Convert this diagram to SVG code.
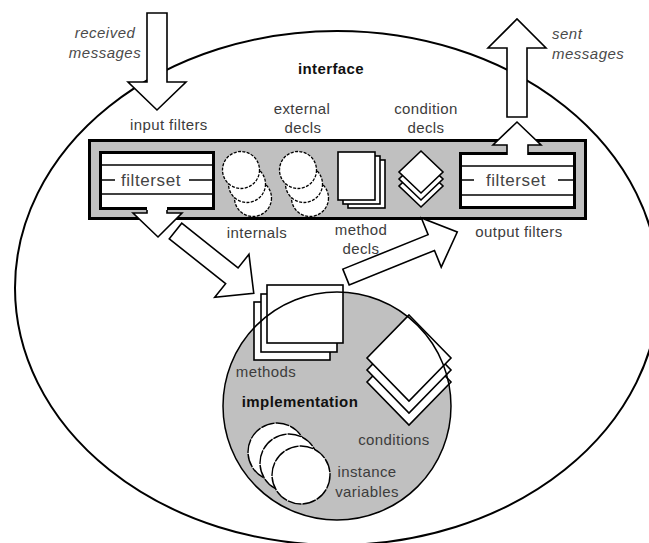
<svg xmlns="http://www.w3.org/2000/svg" width="649" height="543" viewBox="0 0 649 543">
<style>
  text { font-family: "Liberation Sans", Arial, sans-serif; font-size: 15px; fill: #3c3c3c; letter-spacing: 0.4px; }
  .it { font-style: italic; letter-spacing: 0.5px; fill: #4a4a4a; }
  .b { font-weight: bold; fill: #111; }
  .mid { text-anchor: middle; }
  .fs { font-size: 17px; letter-spacing: 0.6px; fill: #444; }
  .sheet { fill: #fff; stroke: #000; stroke-width: 1.6; }
  .dash { fill: #fff; stroke: #000; stroke-width: 1.3; stroke-dasharray: 3 1.4; }
  .ring { fill: #fff; stroke: #000; stroke-width: 1.4; stroke-dasharray: 14 1; }
  .frame { fill: #fff; stroke: #000; stroke-width: 3; }
  .rule { stroke: #000; stroke-width: 1.5; }
  .arrow { fill: #fff; stroke: #000; stroke-width: 1.6; stroke-linejoin: miter; }
  .cover { fill: #fff; stroke: none; }
  .grey { fill: #c0c0c0; }
</style>
<defs>
  <circle id="disc" r="18.5"/>
  <path id="lozenge" d="M0,-21 L22,0 L0,21 L-22,0 Z"/>
  <path id="lozenge-lg" d="M0,-43 L42,0 L0,43 L-42,0 Z"/>
  <rect id="leaf" width="37" height="48"/>
  <rect id="page" width="76" height="58"/>
  <circle id="var" r="29"/>
</defs>

<!-- outer boundary of the object -->
<g id="object">
  <ellipse cx="337" cy="288" rx="322" ry="257" fill="none" stroke="#000" stroke-width="2"/>
  <text class="b mid" x="331" y="74">interface</text>
</g>

<!-- interface band -->
<g id="interface">
  <rect class="grey" x="89.5" y="140.5" width="496" height="78" stroke="#000" stroke-width="3"/>
  <text class="mid" x="302" y="114">external</text>
  <text class="mid" x="303" y="133">decls</text>
  <text class="mid" x="426" y="114">condition</text>
  <text class="mid" x="426" y="133">decls</text>
</g>

<g id="input-filters">
  <rect class="frame" x="100.5" y="152.5" width="113" height="56"/>
  <line class="rule" x1="101" y1="165" x2="213" y2="165"/>
  <line class="rule" x1="101" y1="194" x2="213" y2="194"/>
  <line class="rule" x1="102" y1="180" x2="115" y2="180"/>
  <line class="rule" x1="189" y1="180" x2="213" y2="180"/>
  <text class="fs mid" x="151" y="186">filterset</text>
  <text x="130" y="130">input filters</text>
</g>

<g id="output-filters">
  <rect class="frame" x="460.5" y="153.5" width="114" height="54"/>
  <line class="rule" x1="461" y1="166" x2="574" y2="166"/>
  <line class="rule" x1="461" y1="195" x2="574" y2="195"/>
  <line class="rule" x1="462" y1="180" x2="474" y2="180"/>
  <line class="rule" x1="558" y1="180" x2="574" y2="180"/>
  <text class="fs mid" x="516" y="186">filterset</text>
  <text class="mid" x="519" y="237">output filters</text>
</g>

<g id="internals">
  <use href="#disc" class="dash" x="253" y="198"/>
  <use href="#disc" class="dash" x="247" y="184"/>
  <use href="#disc" class="dash" x="241" y="170"/>
  <text class="mid" x="257" y="238">internals</text>
</g>

<g id="external-decls">
  <use href="#disc" class="dash" x="310" y="198"/>
  <use href="#disc" class="dash" x="304" y="184"/>
  <use href="#disc" class="dash" x="298" y="170"/>
</g>

<g id="method-decls">
  <use href="#leaf" class="sheet" x="348" y="160"/>
  <use href="#leaf" class="sheet" x="343" y="156"/>
  <use href="#leaf" class="sheet" x="338" y="152"/>
  <text class="mid" x="361" y="235">method</text>
  <text class="mid" x="361" y="254">decls</text>
</g>

<g id="condition-decls">
  <use href="#lozenge" class="sheet" x="421" y="186"/>
  <use href="#lozenge" class="sheet" x="421" y="179"/>
  <use href="#lozenge" class="sheet" x="421" y="172"/>
</g>

<!-- implementation core -->
<g id="implementation">
  <circle class="grey" cx="337" cy="406" r="114"/>
  <text class="b mid" x="300" y="407">implementation</text>
</g>

<g id="methods">
  <use href="#page" class="sheet" x="254" y="302"/>
  <use href="#page" class="sheet" x="261" y="294"/>
  <use href="#page" class="sheet" x="267" y="285"/>
  <text class="mid" x="266" y="377">methods</text>
</g>

<g id="conditions">
  <use href="#lozenge-lg" class="sheet" x="409" y="382"/>
  <use href="#lozenge-lg" class="sheet" x="409" y="370"/>
  <use href="#lozenge-lg" class="sheet" x="409" y="358"/>
  <text class="mid" x="394" y="445">conditions</text>
</g>

<g id="instance-variables">
  <use href="#var" class="ring" x="277" y="452"/>
  <use href="#var" class="ring" x="289" y="463"/>
  <use href="#var" class="ring" x="301" y="475"/>
  <text class="mid" x="367" y="477">instance</text>
  <text class="mid" x="367" y="497">variables</text>
</g>

<circle id="implementation-edge" cx="337" cy="406" r="114" fill="none" stroke="#000" stroke-width="1.5"/>

<!-- message flow -->
<g id="connectors">
  <polygon class="arrow" points="147,13 167,13 167,82 186,82 157,110 128,82 147,82"/>
  <text class="it mid" x="105" y="38">received</text>
  <text class="it mid" x="105" y="58">messages</text>

  <polygon class="arrow" points="507,117 507,48 488,48 517,19 546,48 527,48 527,117"/>
  <text class="it" x="552" y="39">sent</text>
  <text class="it" x="552" y="59">messages</text>

  <polygon class="cover" points="147,206 147,213 133,213 158,237 182,213 167,213 167,206"/>
  <polyline class="arrow" points="147,210 147,213 133,213 158,237 182,213 167,213 167,210"/>

  <polygon class="cover" points="507,157 507,145 493,145 517,122 541,145 528,145 528,157"/>
  <polyline class="arrow" points="507,155 507,145 493,145 517,122 541,145 528,145 528,155"/>

  <path class="arrow" transform="translate(175.5,231) rotate(38.5)" d="M0,-10 L72,-10 L72,-27.5 L100,0 L72,27.5 L72,10 L0,10 Z"/>
  <path class="arrow" transform="translate(346,277) rotate(-22)" d="M0,-8.5 L92,-8.5 L92,-26.5 L120,0 L92,26.5 L92,8.5 L0,8.5 Z"/>
</g>
</svg>
